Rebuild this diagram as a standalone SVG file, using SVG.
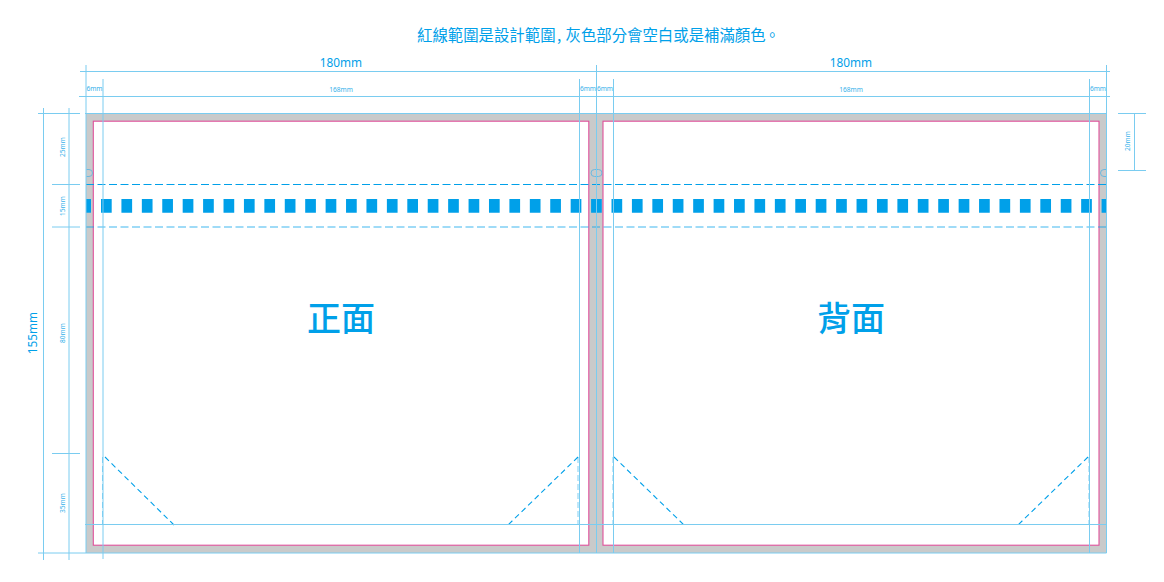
<svg xmlns="http://www.w3.org/2000/svg" width="1164" height="582" viewBox="0 0 1164 582">
<style>
.g{stroke:#7accf0;stroke-width:1;fill:none}
.p{fill:#fff;stroke:#e0509a;stroke-width:1.1}
.d1{stroke:#00a0e9;stroke-width:1;stroke-dasharray:8 3.5;fill:none}
.d2{stroke:#00a0e9;stroke-width:1.4;stroke-dasharray:8 3.5;fill:none;opacity:.5}
.d3{stroke:#00a0e9;stroke-width:1.1;stroke-dasharray:5.5 3.65;fill:none}
.d4{stroke:#00a0e9;stroke-width:1;stroke-dasharray:6 3;fill:none;opacity:.5}
.h{stroke:#6db8de;stroke-width:1;fill:none}
text{fill:#00a0e9;text-anchor:middle;font-family:"Noto Sans","Noto Sans CJK TC",sans-serif}
.s{font-size:6.6px;fill:#35b1ea}
.m{font-size:11.8px}
.c{font-family:"Noto Sans CJK TC",sans-serif}
</style>
<rect id="sheet" x="86" y="114" width="1020.500" height="439" fill="#c9caca"/>
<g id="front">
<rect class="p" x="93.300" y="121.200" width="495.500" height="424"/>
<text class="c" x="341" y="331" font-size="34" font-weight="500">正面</text>
</g>
<g id="back">
<rect class="p" x="603" y="121.200" width="496" height="424"/>
<text class="c" x="851" y="331" font-size="34" font-weight="500">背面</text>
</g>
<g id="perforation">
<rect x="86" y="199" width="5" height="13.700" fill="#00a0e9"/>
<line x1="101" y1="205.850" x2="1106" y2="205.850" stroke="#00a0e9" stroke-width="13.700" stroke-dasharray="10.700 9.720"/>
<path class="h" d="M86.500 169.500H89A3 3 0 0 1 89 176.500H86.500"/>
<rect class="h" x="591" y="169.500" width="11" height="7" rx="3.500"/>
<path class="h" d="M1106 169.500H1104A3 3 0 0 0 1104 176.500H1106"/>
</g>
<g id="connectors">
<path class="d1" d="M86 184.500H1106"/>
<path class="d2" d="M86 227H1106"/>
<path class="d3" d="M105 457L174 525M578 457L508 525M614 457L684 525M1088 457L1018 525"/>
<path class="d4" d="M102.500 457V524M578 457V524M613 457V524M1089 457V524"/>
<path class="d1" opacity=".75" d="M103 524.500H174M508 524.500H579M613 524.500H684M1018 524.500H1090"/>
<g class="g">
<path d="M80 71.500H1110M79 96.500H1110"/>
<path d="M86 65V553M103 79V559M579.500 79V553M596.500 65V553M613.500 79V553M1089.500 79V553M1106.500 65V553"/>
<path d="M85 113.500H1106.500M85 524.500H1106.500M85 553H1106.500"/>
<path d="M43.500 108V560M69 108V560"/>
<path d="M38 113.500H80M52 184.500H80M52 227H80M52 453.500H80M38 553H85"/>
<path d="M1118 113.500H1146M1118 170.500H1146M1134.500 113.500V170.500"/>
</g>
</g>
<g id="labels">
<text class="c" x="417" y="41" font-size="15.400" style="text-anchor:start">紅線範圍是設計範圍<tspan x="557">,</tspan><tspan x="565.500">灰色部分會空白或是補滿顏色</tspan><tspan x="764.500">。</tspan></text>
<text class="m" x="341" y="67">180mm</text>
<text class="m" x="851" y="67">180mm</text>
<text class="s" x="94.500" y="91">6mm</text>
<text class="s" x="341" y="92">168mm</text>
<text class="s" x="588" y="91">6mm</text>
<text class="s" x="605" y="91">6mm</text>
<text class="s" x="851" y="92">168mm</text>
<text class="s" x="1098" y="91">6mm</text>
<text class="s" transform="translate(64.500 147) rotate(-90)">25mm</text>
<text class="s" transform="translate(64.500 206) rotate(-90)">15mm</text>
<text class="s" transform="translate(64.500 333) rotate(-90)">80mm</text>
<text class="s" transform="translate(64.500 503) rotate(-90)">35mm</text>
<text class="s" transform="translate(1130 141) rotate(-90)">20mm</text>
<text class="m" transform="translate(36.500 333) rotate(-90)">155mm</text>
</g>
</svg>
